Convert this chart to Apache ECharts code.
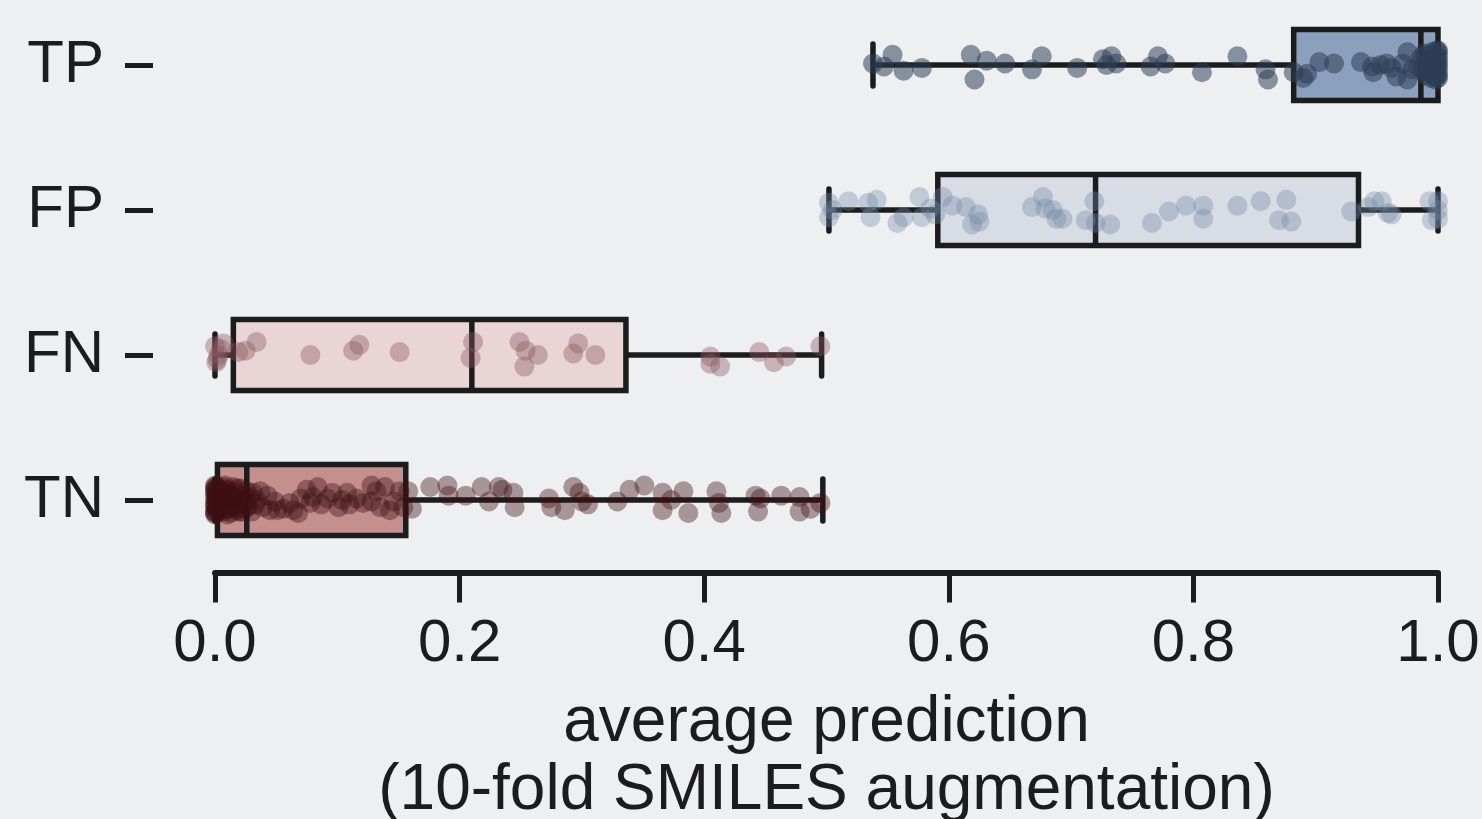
<!DOCTYPE html>
<html><head><meta charset="utf-8">
<script src="https://cdn.jsdelivr.net/npm/echarts@6/dist/echarts.min.js"></script>
<style>html,body{margin:0;padding:0;background:#eeeff1;}#chart{width:1482px;height:819px;}</style>
</head><body><div id="chart"></div>
<script>
// ---------- data ----------
const categories = ['TP', 'FP', 'FN', 'TN'];
const xTickValues = [0, 0.2, 0.4, 0.6, 0.8, 1.0];
const axisTitle = 'average prediction\n(10-fold SMILES augmentation)';

const boxMin    = [0.538, 0.502, 0.000, 0.000];
const boxQ1     = [0.882, 0.591, 0.015, 0.002];
const boxMedian = [0.986, 0.720, 0.210, 0.026];
const boxQ3     = [1.000, 0.935, 0.336, 0.156];
const boxMax    = [1.000, 1.000, 0.496, 0.497];

const tpValues = [0.538,0.547,0.554,0.563,0.578,0.618,0.621,0.631,0.646,0.668,0.676,0.705,0.726,0.729,0.733,0.737,0.765,0.771,0.777,0.807,0.836,0.859,0.861,0.882,0.890,0.893,0.903,0.915,0.937,0.946,0.947,0.953,0.958,0.962,0.966,0.971,0.975,0.975,0.979,0.984,
  0.986,0.988,0.989,0.990,0.991,0.992,0.993,0.994,0.995,0.995,0.996,0.996,0.997,0.997,0.998,0.998,0.998,0.999,0.999,0.999,1.0,1.0,1.0,1.0,1.0,1.0,1.0,1.0,0.997,0.994,0.992,0.990,0.987,0.999];
const tpJitter = [-0.01,0.01,-0.07,0.04,0.02,-0.07,0.10,-0.03,-0.01,0.03,-0.06,0.02,-0.04,0.0,-0.06,-0.01,0.01,-0.06,-0.01,0.05,-0.06,0.03,0.10,0.05,0.09,0.06,-0.02,-0.01,-0.02,0.01,0.05,0.0,-0.01,0.02,0.08,-0.01,-0.09,0.10,0.03,0.01,
  -0.05,0.04,-0.08,0.07,-0.02,0.03,-0.06,0.09,-0.09,0.01,0.06,-0.04,0.08,-0.01,-0.07,0.04,0.10,-0.10,0.0,0.07,-0.08,-0.05,-0.02,0.01,0.04,0.07,0.09,-0.10,0.02,-0.03,0.05,-0.06,0.02,-0.04];

const fpValues = [0.502,0.502,0.505,0.518,0.534,0.541,0.536,0.558,0.563,0.576,0.578,0.585,0.589,0.595,0.603,0.614,0.619,0.624,0.625,0.668,0.677,0.679,0.685,0.688,0.693,0.712,0.719,0.720,0.732,0.766,0.780,0.794,0.808,0.808,0.836,0.855,0.870,0.876,0.880,0.929,0.943,0.948,0.954,0.959,0.962,0.993,0.995,1.0,1.0,1.0];
const fpJitter = [-0.05,0.05,0,-0.06,-0.05,-0.07,0.05,0.09,0.05,-0.09,0.05,-0.01,0.03,-0.09,-0.03,-0.02,0.10,0.03,0.08,-0.02,-0.09,-0.01,0,0.06,0.06,0.07,-0.06,0.09,0.10,0.09,0.01,-0.03,-0.03,0.06,-0.03,-0.06,0.07,-0.07,0.08,0.01,-0.02,-0.06,-0.06,0.02,0.03,-0.06,0.07,-0.06,0.06,0];

const fnValues = [0.000,0.001,0.002,0.003,0.005,0.007,0.019,0.025,0.034,0.078,0.113,0.118,0.151,0.209,0.211,0.249,0.253,0.254,0.264,0.293,0.297,0.311,0.405,0.405,0.413,0.445,0.457,0.467,0.495];
const fnJitter = [-0.06,0.05,0.03,0,-0.04,-0.08,-0.02,-0.03,-0.09,0,-0.03,-0.07,-0.02,0.02,-0.09,-0.09,0.08,-0.03,0,-0.01,-0.08,0,0.01,0.06,0.08,-0.02,0.05,0.01,-0.06];

const tnValues = [0,0,0,0,0,0,0,0,0,0,0.001,0.001,0.001,0.001,0.001,0.002,0.002,0.002,0.002,0.002,
  0,0,0.001,0.003,0.005,0.008,0.010,0.012,0.015,0.018,0.020,0.022,0.003,0.006,0.009,0.013,
  0.004,0.005,0.006,0.007,0.008,0.009,0.010,0.011,0.012,0.013,0.014,0.015,0.016,0.017,0.018,0.019,0.020,0.021,0.022,0.023,0.024,0.025,0.026,0.027,0.028,0.030,0.031,0.033,
  0.034,0.037,0.039,0.043,0.045,0.049,0.051,0.056,0.061,0.064,0.068,0.070,0.075,0.078,0.080,0.084,0.087,0.092,0.096,0.101,0.104,0.108,0.110,0.116,0.121,0.128,0.128,0.132,0.135,0.139,0.143,0.146,0.151,0.154,
  0.158,0.161,0.176,0.190,0.191,0.205,0.218,0.224,0.232,0.235,0.244,0.245,0.273,0.275,0.286,0.293,0.298,0.300,0.305,0.329,0.339,0.351,0.366,0.366,0.373,0.383,0.387,0.410,0.412,0.414,0.442,0.444,0.446,0.463,0.478,0.478,0.487,0.495];
const tnJitter = [-0.10,-0.07,-0.04,-0.01,0.02,0.05,0.08,0.10,-0.06,0.03,-0.09,-0.02,0.04,0.09,-0.05,-0.08,0.0,0.06,-0.03,0.07,
  -0.09,0.09,0.01,-0.07,0.07,-0.10,0.10,-0.04,0.04,-0.08,0.08,0.0,0.03,-0.05,0.06,-0.02,
  -0.06,0.04,-0.09,0.08,-0.02,0.02,-0.07,0.06,-0.04,0.09,0.0,-0.09,0.05,-0.05,0.07,-0.01,0.03,-0.08,0.08,-0.03,0.01,0.06,-0.06,0.04,-0.02,0.08,-0.05,0.03,
  0,-0.06,0.05,-0.03,0.07,0.01,0.07,0.06,0.02,0.07,0.09,-0.01,-0.07,0.02,-0.02,-0.09,0.03,-0.01,-0.05,0.05,0,-0.05,0.03,-0.01,0.02,-0.10,0.01,-0.06,0.05,-0.09,0.07,0.01,-0.06,0.05,
  -0.06,0.06,-0.09,-0.10,-0.03,-0.03,-0.09,0.01,-0.09,-0.07,-0.05,0.05,-0.01,0.05,0.07,-0.09,-0.05,0.01,0.03,0.01,-0.07,-0.10,-0.05,0.07,0,-0.06,0.09,-0.06,0.02,0.09,-0.03,0.08,-0.01,-0.03,-0.02,0.08,0.06,0.02];

// ---------- styles ----------
const boxFill = ['#8ba0bd', '#d8dce4', '#e9d5d5', '#c4908d'];
const pointColor = ['rgba(45,61,85,0.67)', 'rgba(115,137,166,0.45)', 'rgba(138,88,98,0.5)', 'rgba(62,16,21,0.5)'];
const ink = '#1c1c1c';
const FONT = "'Liberation Sans', Arial, Helvetica, sans-serif";

const pointSets = [[tpValues, tpJitter], [fpValues, fpJitter], [fnValues, fnJitter], [tnValues, tnJitter]];
const boxData = categories.map((c, i) => [i, boxMin[i], boxQ1[i], boxMedian[i], boxQ3[i], boxMax[i]]);

function renderBox(params, api) {
  const ci = api.value(0);
  const idx = params.dataIndex;
  const band = api.size([0, 1])[1];
  const cy = api.coord([0, ci])[1];
  const xMin = api.coord([api.value(1), ci])[0];
  const xQ1 = api.coord([api.value(2), ci])[0];
  const xMed = api.coord([api.value(3), ci])[0];
  const xQ3 = api.coord([api.value(4), ci])[0];
  const xMax = api.coord([api.value(5), ci])[0];
  const hb = band * 0.245, hc = band * 0.145, lw = 5.5;
  const ls = {stroke: ink, lineWidth: lw};
  const cap = {stroke: ink, lineWidth: lw, lineCap: 'round'};
  return {type: 'group', children: [
    {type: 'line', shape: {x1: xMin, y1: cy, x2: xQ1, y2: cy}, style: ls},
    {type: 'line', shape: {x1: xQ3, y1: cy, x2: xMax, y2: cy}, style: ls},
    {type: 'rect', shape: {x: xQ1, y: cy - hb, width: xQ3 - xQ1, height: 2 * hb}, style: {fill: boxFill[idx], stroke: ink, lineWidth: lw}},
    {type: 'line', shape: {x1: xMed, y1: cy - hb, x2: xMed, y2: cy + hb}, style: ls},
    {type: 'line', shape: {x1: xMin, y1: cy - hc, x2: xMin, y2: cy + hc}, style: cap},
    {type: 'line', shape: {x1: xMax, y1: cy - hc, x2: xMax, y2: cy + hc}, style: cap}
  ]};
}

const scatterSeries = pointSets.map((ps, i) => ({
  type: 'scatter',
  xAxisIndex: 0, yAxisIndex: 1,
  symbol: 'circle', symbolSize: 20,
  clip: false, z: 5,
  silent: true,
  itemStyle: {color: pointColor[i], borderWidth: 0},
  data: ps[0].map((v, k) => [v, i + ps[1][k]])
}));

const chart = echarts.init(document.getElementById('chart'));
chart.setOption({
  backgroundColor: '#eeeff1',
  animation: false,
  grid: [
    {left: 215, right: 44, top: -7.5, height: 580, containLabel: false, outerBoundsMode: 'none'},
    {left: 153, width: 1, top: -7.5, height: 580, containLabel: false, outerBoundsMode: 'none'}
  ],
  xAxis: [{
    type: 'value', gridIndex: 0, min: 0, max: 1, interval: 0.2,
    axisLine: {show: true, onZero: false, lineStyle: {color: ink, width: 6}},
    axisTick: {show: true, length: 30, lineStyle: {color: ink, width: 5}},
    splitLine: {show: false},
    axisLabel: {
      margin: 42, fontSize: 60, lineHeight: 60, color: ink, fontFamily: FONT,
      formatter: v => xTickValues.some(t => Math.abs(t - v) < 1e-9) ? v.toFixed(1) : ''
    },
    name: axisTitle, nameLocation: 'middle', nameGap: 117,
    nameTextStyle: {fontSize: 64, lineHeight: 68, color: ink, fontFamily: FONT}
  }, {
    type: 'value', gridIndex: 1, min: 0, max: 1, show: false
  }],
  yAxis: [{
    type: 'category', gridIndex: 1, data: categories, inverse: true,
    axisLine: {show: false},
    axisTick: {show: true, alignWithLabel: true, length: 28, lineStyle: {color: ink, width: 5}},
    axisLabel: {margin: 49, fontSize: 60, color: ink, fontFamily: FONT},
    splitLine: {show: false}
  }, {
    type: 'value', gridIndex: 0, min: -0.5, max: 3.5, inverse: true, show: false, splitLine: {show: false}
  }],
  series: [{
    type: 'custom', xAxisIndex: 0, yAxisIndex: 1, z: 2, clip: false, silent: true,
    renderItem: renderBox,
    encode: {x: [1, 2, 3, 4, 5], y: 0},
    data: boxData
  }].concat(scatterSeries)
});
</script></body></html>
